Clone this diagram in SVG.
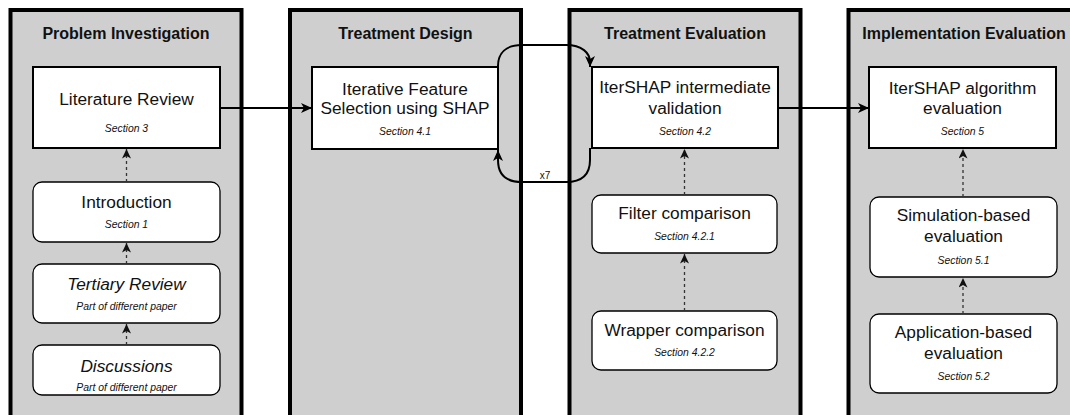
<svg xmlns="http://www.w3.org/2000/svg" width="1070" height="415" viewBox="0 0 1070 415">
  <style>
    .panel { fill: #cfcfcf; stroke: #000; stroke-width: 4; }
    .box { fill: #fff; stroke: #000; stroke-width: 2; }
    .rbox { fill: #fff; stroke: #000; stroke-width: 1.3; }
    .title { font-family: "Liberation Sans", Arial, sans-serif; font-size: 16px; font-weight: bold; fill: #111; text-anchor: middle; }
    .label { font-family: "Liberation Sans", Arial, sans-serif; font-size: 17.3px; fill: #111; text-anchor: middle; }
    .ilabel { font-family: "Liberation Sans", Arial, sans-serif; font-size: 17.3px; font-style: italic; fill: #111; text-anchor: middle; }
    .sub { font-family: "Liberation Sans", Arial, sans-serif; font-size: 10.4px; font-style: italic; fill: #111; text-anchor: middle; }
    .edge { fill: none; stroke: #000; stroke-width: 2; }
    .dash { fill: none; stroke: #333; stroke-width: 1.3; stroke-dasharray: 3 3; }
    .elabel { font-family: "Liberation Sans", Arial, sans-serif; font-size: 10px; fill: #111; text-anchor: middle; }
  </style>
  <defs>
    <marker id="arrow" markerUnits="userSpaceOnUse" markerWidth="12" markerHeight="10" refX="11" refY="5" orient="auto">
      <path d="M0,0 L11,5 L0,10 L3,5 Z" fill="#000"/>
    </marker>
    <marker id="arrowSmall" markerUnits="userSpaceOnUse" markerWidth="10" markerHeight="9" refX="9.5" refY="4.5" orient="auto">
      <path d="M0,0 L9.5,4.5 L0,9 L2.5,4.5 Z" fill="#111"/>
    </marker>
  </defs>

  <!-- phase panels -->
  <g id="panel-problem-investigation">
    <rect class="panel" x="10.5" y="10" width="231" height="430"/>
    <text class="title" x="126" y="39">Problem Investigation</text>
  </g>
  <g id="panel-treatment-design">
    <rect class="panel" x="290" y="10" width="231" height="430"/>
    <text class="title" x="405.5" y="39">Treatment Design</text>
  </g>
  <g id="panel-treatment-evaluation">
    <rect class="panel" x="569.5" y="10" width="231" height="430"/>
    <text class="title" x="685" y="39">Treatment Evaluation</text>
  </g>
  <g id="panel-implementation-evaluation">
    <rect class="panel" x="848.5" y="10" width="231" height="430"/>
    <text class="title" x="964" y="39">Implementation Evaluation</text>
  </g>

  <!-- nodes -->
  <g id="literature-review">
    <rect class="box" x="33" y="67" width="187" height="81"/>
    <text class="label" x="126.5" y="105">Literature Review</text>
    <text class="sub" x="126.5" y="132">Section 3</text>
  </g>
  <g id="introduction">
    <rect class="rbox" x="33" y="182" width="187" height="60" rx="9"/>
    <text class="label" x="126.5" y="208">Introduction</text>
    <text class="sub" x="126.5" y="227.5">Section 1</text>
  </g>
  <g id="tertiary-review">
    <rect class="rbox" x="33" y="264" width="187" height="59" rx="9"/>
    <text class="ilabel" x="126.5" y="290">Tertiary Review</text>
    <text class="sub" x="126.5" y="309.5">Part of different paper</text>
  </g>
  <g id="discussions">
    <rect class="rbox" x="33" y="345" width="187" height="50" rx="9"/>
    <text class="ilabel" x="126.5" y="372">Discussions</text>
    <text class="sub" x="126.5" y="390.5">Part of different paper</text>
  </g>

  <g id="iterative-feature-selection">
    <rect class="box" x="312" y="67" width="186" height="82"/>
    <text class="label" x="405" y="95">Iterative Feature</text>
    <text class="label" x="405" y="114">Selection using SHAP</text>
    <text class="sub" x="405" y="134.5">Section 4.1</text>
  </g>

  <g id="intermediate-validation">
    <rect class="box" x="592" y="67" width="186" height="81"/>
    <text class="label" x="685" y="92.5">IterSHAP intermediate</text>
    <text class="label" x="685" y="113.5">validation</text>
    <text class="sub" x="685" y="134.5">Section 4.2</text>
  </g>
  <g id="filter-comparison">
    <rect class="rbox" x="592" y="195" width="185" height="58" rx="9"/>
    <text class="label" x="684.5" y="219">Filter comparison</text>
    <text class="sub" x="684.5" y="239.5">Section 4.2.1</text>
  </g>
  <g id="wrapper-comparison">
    <rect class="rbox" x="592" y="311" width="185" height="59" rx="9"/>
    <text class="label" x="684.5" y="335.5">Wrapper comparison</text>
    <text class="sub" x="684.5" y="355.5">Section 4.2.2</text>
  </g>

  <g id="algorithm-evaluation">
    <rect class="box" x="869" y="67" width="187" height="81"/>
    <text class="label" x="962.5" y="93.5">IterSHAP algorithm</text>
    <text class="label" x="962.5" y="114">evaluation</text>
    <text class="sub" x="962.5" y="135">Section 5</text>
  </g>
  <g id="simulation-based">
    <rect class="rbox" x="870" y="197" width="187" height="80" rx="9"/>
    <text class="label" x="963.5" y="221">Simulation-based</text>
    <text class="label" x="963.5" y="242">evaluation</text>
    <text class="sub" x="963.5" y="263.5">Section 5.1</text>
  </g>
  <g id="application-based">
    <rect class="rbox" x="870" y="314" width="187" height="79" rx="9"/>
    <text class="label" x="963.5" y="337.5">Application-based</text>
    <text class="label" x="963.5" y="359">evaluation</text>
    <text class="sub" x="963.5" y="379.5">Section 5.2</text>
  </g>

  <!-- connectors -->
  <g id="connectors">
    <path class="edge" d="M220 108 L312 108" marker-end="url(#arrow)"/>
    <path class="edge" d="M778 108 L869 108" marker-end="url(#arrow)"/>

    <!-- iteration loop between design and evaluation -->
    <path class="edge" d="M498 67 L498 66 C498 53 506 45 522 45 L566 45 C582 45 590 53 590 62 L590 67" marker-end="url(#arrow)"/>
    <path class="edge" d="M590 148 L590 160 C590 174 582 182 566 182 L522 182 C506 182 498 174 498 160 L498 150" marker-end="url(#arrow)"/>
    <text class="elabel" x="545" y="178.5">x7</text>

    <path class="dash" d="M126.5 182 L126.5 149" marker-end="url(#arrowSmall)"/>
    <path class="dash" d="M126.5 264 L126.5 243" marker-end="url(#arrowSmall)"/>
    <path class="dash" d="M126.5 345 L126.5 324" marker-end="url(#arrowSmall)"/>

    <path class="dash" d="M684.5 195 L684.5 149" marker-end="url(#arrowSmall)"/>
    <path class="dash" d="M684.5 311 L684.5 254" marker-end="url(#arrowSmall)"/>

    <path class="dash" d="M963 197 L963 149" marker-end="url(#arrowSmall)"/>
    <path class="dash" d="M963 314 L963 278" marker-end="url(#arrowSmall)"/>
  </g>
</svg>
